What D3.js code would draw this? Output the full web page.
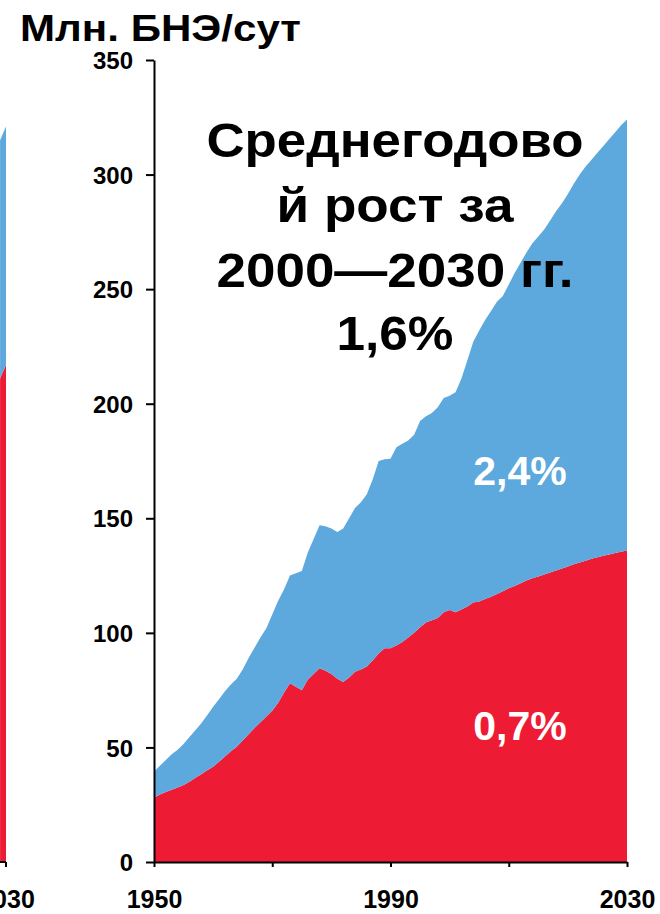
<!DOCTYPE html>
<html>
<head>
<meta charset="utf-8">
<script src="https://cdn.jsdelivr.net/npm/d3@7"></script>
<style>
  html, body { margin: 0; padding: 0; background: #fff; }
  svg { display: block; }
  text { font-family: "Liberation Sans", Arial, sans-serif; font-weight: bold; }
</style>
</head>
<body>
<svg id="chart" width="660" height="914"></svg>
<script>
// ---- data ----
const years = d3.range(1950, 2031);
const redValues = [
  28, 29.5, 30.5, 31.5, 32.5, 33.6, 35, 36.8, 38.3, 40,
  41.6, 43.8, 46, 48.3, 50.3, 53, 55.8, 58.5, 61, 63.5,
  66, 69.5, 74, 78, 76.5, 75, 79.5, 82, 84.6, 83.5,
  82, 80, 78.5, 80.5, 83, 84, 85.3, 88, 91, 93.3,
  93.3, 94.5, 96, 98, 100, 102.5, 104.5, 105.5, 106.5, 109,
  110, 109, 110.2, 111.5, 113.2, 113.7, 114.8, 115.8, 117, 118.2,
  119.5, 120.5, 121.6, 122.8, 123.8, 124.6, 125.5, 126.3, 127.2, 128.1,
  129, 129.9, 130.7, 131.5, 132.3, 133, 133.6, 134.2, 134.8, 135.4,
  135.9
];
const blueValues = [
  11.5, 12.5, 14, 15.5, 16.5, 17.9, 19.5, 20.7, 22.2, 24,
  26.2, 27.2, 28.5, 29.2, 29.7, 31, 33.2, 35, 37, 38.5,
  42, 44.5, 45, 47, 49.5, 52, 55.5, 59, 62.4, 63,
  63.5, 64, 67, 69.5, 71.5, 73, 75.2, 79, 84, 82.5,
  82.7, 86.5, 86.5, 86, 86.5, 90, 90, 90.5, 92, 93.5,
  93.5, 96, 100.8, 107.5, 113.8, 118.3, 121.7, 124.7, 127.5, 128.8,
  132.5, 136.5, 139.9, 143.2, 146.2, 148.4, 150.5, 153.7, 156.8, 159.4,
  162.5, 166.1, 169.3, 172, 174.2, 176.5, 178.9, 181.3, 183.7, 186.1,
  188.1
];
// edge of the neighbouring (cropped) panel on the far left
const sliverYears = [2029, 2030];
const sliverRed = [211, 217];
const sliverBlue = [104, 104];

const yTicks = [0, 50, 100, 150, 200, 250, 300, 350];
const xTicks = [1950, 1970, 1990, 2010, 2030];
const xTickLabels = [1950, 1990, 2030];
const yTitle = "Млн. БНЭ/сут";
const noteLines = ["Среднегодово", "й рост за", "2000—2030 гг.", "1,6%"];
const redLabel = "0,7%";
const blueLabel = "2,4%";

const RED = "#ED1B34";
const BLUE = "#5DA8DC";

// ---- drawing ----
const svg = d3.select("#chart");
const x = d3.scaleLinear().domain([1950, 2030]).range([154, 627]);
const y = d3.scaleLinear().domain([0, 350]).range([862, 60]);

function drawStack(g, xs, yrs, red, blue) {
  const rows = yrs.map((yr, i) => ({ year: yr, red: red[i], blue: blue[i] }));
  const series = d3.stack().keys(["red", "blue"])(rows);
  const area = d3.area()
    .x(d => xs(d.data.year))
    .y0(d => y(d[0]))
    .y1(d => y(d[1]));
  g.selectAll("path.layer").data(series).join("path")
    .attr("class", "layer")
    .attr("fill", d => d.key === "red" ? RED : BLUE)
    .attr("d", area);
}

// left sliver panel
const xs2 = d3.scaleLinear().domain([1950, 2030]).range([6 - 473, 6]);
const gS = svg.append("g");
drawStack(gS, xs2, sliverYears, sliverRed, sliverBlue);
gS.append("line").attr("x1", 0).attr("x2", xs2(2030)).attr("y1", y(0)).attr("y2", y(0))
  .attr("stroke", "#000").attr("stroke-width", 2);
gS.append("line").attr("x1", xs2(2030)).attr("x2", xs2(2030)).attr("y1", y(0)).attr("y2", y(0) + 5)
  .attr("stroke", "#000").attr("stroke-width", 2);
gS.append("text").attr("x", xs2(2030) + 1).attr("y", 908).attr("text-anchor", "middle")
  .attr("font-size", 25).text("2030");

// main panel
const gM = svg.append("g");
drawStack(gM, x, years, redValues, blueValues);

// y axis
const yAxis = d3.axisLeft(y).tickValues(yTicks).tickSize(8).tickPadding(13).tickSizeOuter(0);
const gy = svg.append("g").attr("transform", `translate(${x(1950)},0)`).call(yAxis);
gy.select(".domain").attr("stroke", "#000").attr("stroke-width", 2);
gy.selectAll(".tick line").attr("stroke", "#000").attr("stroke-width", 2);
gy.selectAll(".tick text").attr("font-size", 24).attr("fill", "#000")
  .attr("font-family", "Liberation Sans, Arial, sans-serif").attr("font-weight", "bold")
  .attr("dy", "0.36em");

// x axis
const xAxis = d3.axisBottom(x).tickValues(xTicks).tickSize(5).tickSizeOuter(0)
  .tickFormat(d => xTickLabels.includes(d) ? String(d) : "");
const gx = svg.append("g").attr("transform", `translate(0,${y(0)})`).call(xAxis);
gx.select(".domain").attr("stroke", "#000").attr("stroke-width", 2);
gx.selectAll(".tick line").attr("stroke", "#000").attr("stroke-width", 2);
gx.selectAll(".tick text").attr("font-size", 25).attr("fill", "#000")
  .attr("font-family", "Liberation Sans, Arial, sans-serif").attr("font-weight", "bold")
  .attr("y", 46).attr("dy", 0);

// axis title
svg.append("text").attr("x", 20).attr("y", 41).attr("font-size", 37).attr("fill", "#000")
  .attr("textLength", 281).attr("lengthAdjust", "spacingAndGlyphs").text(yTitle);

// annotation
const noteBase = [157, 222, 287, 350];
const noteWidths = [377, 237, 357, 117];
svg.append("g").selectAll("text").data(noteLines).join("text")
  .attr("x", 395).attr("y", (d, i) => noteBase[i])
  .attr("text-anchor", "middle").attr("font-size", 48).attr("fill", "#000")
  .attr("textLength", (d, i) => noteWidths[i]).attr("lengthAdjust", "spacingAndGlyphs")
  .text(d => d);

// growth labels
svg.append("text").attr("x", 520).attr("y", 485).attr("text-anchor", "middle")
  .attr("font-size", 41).attr("fill", "#fff").text(blueLabel);
svg.append("text").attr("x", 520).attr("y", 740).attr("text-anchor", "middle")
  .attr("font-size", 41).attr("fill", "#fff").text(redLabel);
</script>
</body>
</html>
